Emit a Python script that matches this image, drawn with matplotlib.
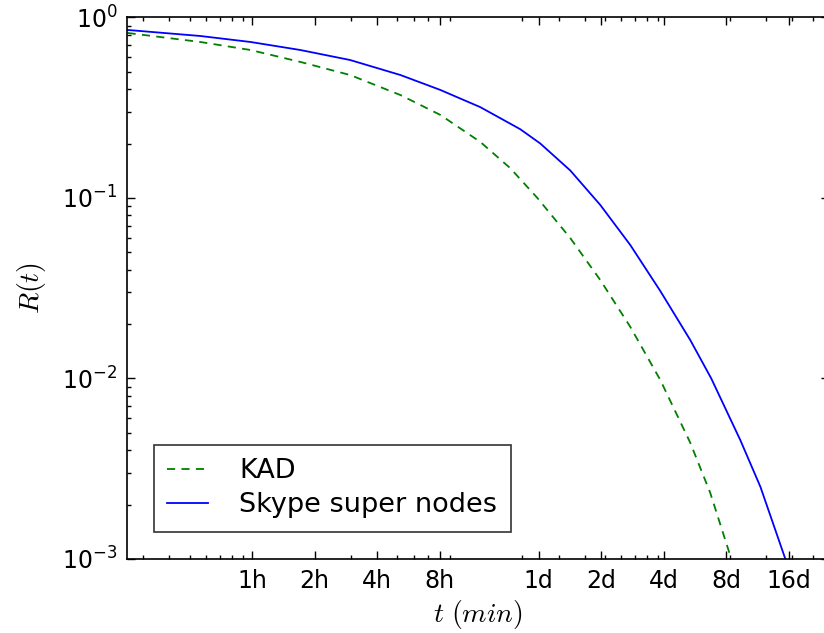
import matplotlib
matplotlib.use("Agg")
import matplotlib.pyplot as plt
from matplotlib.ticker import FixedLocator, NullFormatter

# time in minutes, survival probability R(t)
kad_t = [15.1, 33.8, 59, 102.5, 178, 311, 484, 754, 1051, 1418, 2044, 2850,
         3977, 5545, 7735, 9653, 12190]
kad_r = [0.819, 0.730, 0.659, 0.566, 0.479, 0.371, 0.288, 0.204, 0.146, 0.1,
         0.0599, 0.0351, 0.0193, 0.00981, 0.00440, 0.00232, 0.001]

skype_t = [15.1, 33.8, 59, 102.5, 178, 311, 484, 754, 1174, 1466, 2044, 2850,
           3977, 5545, 7735, 9756, 13460, 16830, 22190, 23420]
skype_r = [0.851, 0.788, 0.730, 0.659, 0.580, 0.479, 0.396, 0.318, 0.240, 0.200,
           0.1418, 0.0914, 0.0548, 0.0305, 0.0163, 0.01, 0.00456, 0.00251, 0.001, 0.00082]

tick_vals = [60, 120, 240, 480, 1440, 2880, 5760, 11520, 23040]
tick_labels = ["1h", "2h", "4h", "8h", "1d", "2d", "4d", "8d", "16d"]
minor_vals = [6 * k * 10 ** n for n in range(0, 4) for k in range(2, 10)]

plt.rcParams["mathtext.fontset"] = "cm"
plt.rcParams["axes.unicode_minus"] = False

fig = plt.figure(figsize=(8.24, 6.33), dpi=100)
ax = fig.add_axes([127 / 824, 74 / 633, 702 / 824, 541.7 / 633])

ax.plot(kad_t, kad_r, linestyle=(0, (4.5, 3.5)), color="#008000", lw=1.3, label="KAD")
ax.plot(skype_t, skype_r, "-", color="#0000ff", lw=1.3, label="Skype super nodes")

ax.set_xscale("log")
ax.set_yscale("log")
ax.set_xlim(15, 36000)
ax.set_ylim(1e-3, 1)

ax.xaxis.set_major_locator(FixedLocator(tick_vals))
ax.set_xticklabels(tick_labels)
ax.xaxis.set_minor_locator(FixedLocator(minor_vals))
ax.xaxis.set_minor_formatter(NullFormatter())

ax.tick_params(which="both", direction="in", top=True, right=True, labelsize=17, pad=7)
ax.tick_params(which="major", length=6, width=1)
ax.tick_params(which="minor", length=3, width=1)
for s in ax.spines.values():
    s.set_linewidth(1.2)

ax.set_xlabel(r"$t\ (min)$", fontsize=20, labelpad=4)
ax.set_ylabel(r"$R(t)$", fontsize=20, labelpad=10)

leg = ax.legend(loc="lower left", bbox_to_anchor=(0.038, 0.05), borderaxespad=0,
                fontsize=19.5, fancybox=False, handlelength=1.5, handletextpad=1.15,
                borderpad=0.5, labelspacing=0.3)
leg.get_frame().set_edgecolor("black")
leg.get_frame().set_linewidth(1.2)

fig.savefig("out.png", dpi=100)
